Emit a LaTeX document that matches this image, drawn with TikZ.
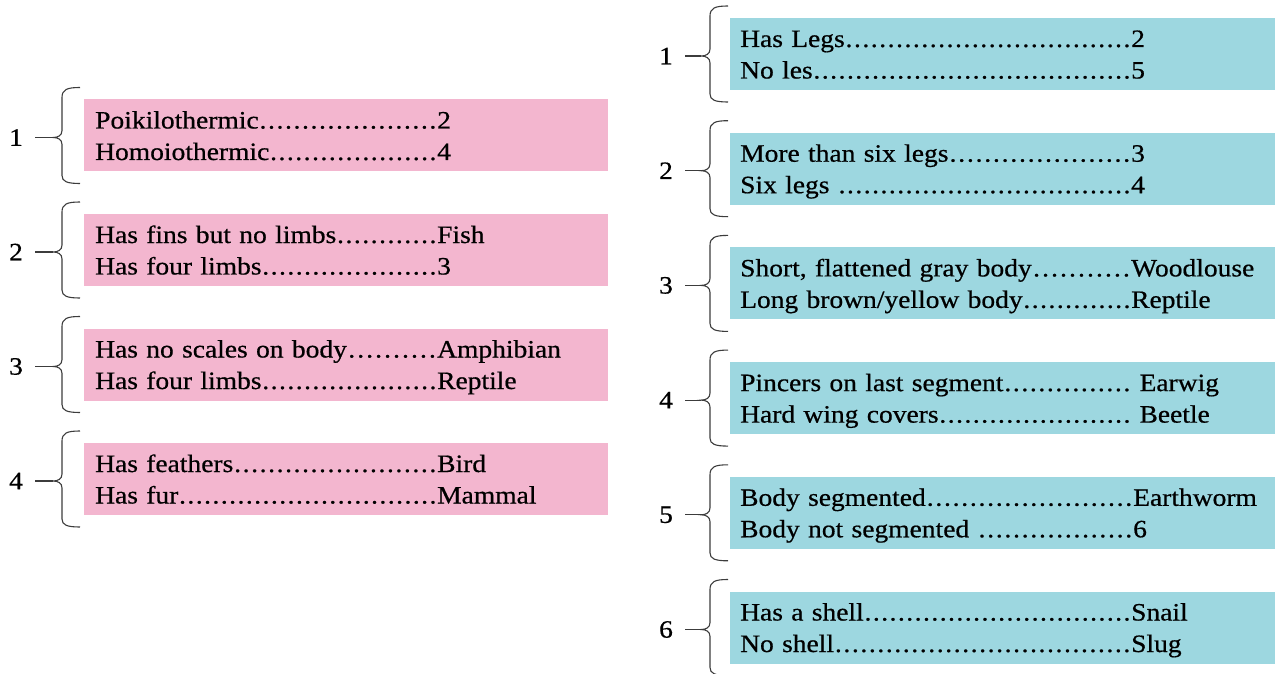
\documentclass[tikz,border=0pt]{standalone}
\usepackage{fontspec}
\setmainfont{Liberation Serif}[FakeStretch=1.1,FakeBold=0.6]
\definecolor{pinkbox}{RGB}{243,182,207}
\definecolor{cyanbox}{RGB}{157,215,224}
\definecolor{bracecol}{RGB}{60,60,60}
\newcommand\dotl{\xleaders\hbox to .3333em{\hss.\hss}\hfill}
\newcommand\keyline[3]{\makebox[#1][l]{\rule[-6pt]{0pt}{29.5pt}#2\dotl}#3}
% #1 tip name, #2 x of brace stem, #3 box centre y
\newcommand\keybrace[3]{%
  \coordinate (#1) at (#2-9,#3+2);
  \draw[bracepath] (#2+18,#3-48) .. controls (#2+5,#3-48) and (#2,#3-46) .. (#2,#3-38)
     -- (#2,#3-5) .. controls (#2,#3) and (#2-4,#3+2) .. (#1)
     .. controls (#2-4,#3+2) and (#2,#3+4) .. (#2,#3+9)
     -- (#2,#3+40) .. controls (#2,#3+46) and (#2+5,#3+48) .. (#2+18,#3+48);
}
\begin{document}
\begin{tikzpicture}[x=1pt,y=-1pt,
  keytext/.style={font=\fontsize{25}{31.5}\selectfont, text=black},
  pinkkey/.style={keytext, rectangle, fill=pinkbox, anchor=west,
     minimum height=72pt, inner xsep=11pt, inner ysep=0pt, text width=502pt, align=left},
  cyankey/.style={keytext, rectangle, fill=cyanbox, anchor=west,
     minimum height=72pt, inner xsep=10pt, inner ysep=0pt, text width=525pt, align=left},
  num/.style={keytext, inner sep=0pt},
  bracepath/.style={draw=bracecol, line width=1.1pt}]
\useasboundingbox (0,0) rectangle (1275,674);
\fill[white] (0,0) rectangle (1275,674);

% ---------- left key (pink) ----------
\node[pinkkey] (L1) at (84,135.5) {\keyline{342pt}{Poikilothermic}{2}\\\keyline{342pt}{Homoiothermic}{4}};
\node[pinkkey] (L2) at (84,250) {\keyline{342pt}{Has fins but no limbs}{Fish}\\\keyline{342pt}{Has four limbs}{3}};
\node[pinkkey] (L3) at (84,364.5) {\keyline{342pt}{Has no scales on body}{Amphibian}\\\keyline{342pt}{Has four limbs}{Reptile}};
\node[pinkkey] (L4) at (84,479) {\keyline{342pt}{Has feathers}{Bird}\\\keyline{342pt}{Has fur}{Mammal}};

\keybrace{L1t}{62}{135.5}
\keybrace{L2t}{62}{250}
\keybrace{L3t}{62}{364.5}
\keybrace{L4t}{62}{479}

\node[num] (L1n) at (16,137.5) {1};
\node[num] (L2n) at (16,252) {2};
\node[num] (L3n) at (16,366.5) {3};
\node[num] (L4n) at (16,481) {4};
\foreach \i in {1,...,4}{\draw[bracepath, shorten <=12pt] (L\i n.east) -- (L\i t);}

% ---------- right key (cyan) ----------
\node[cyankey] (R1) at (730,54) {\keyline{391pt}{Has Legs}{2}\\\keyline{391pt}{No les}{5}};
\node[cyankey] (R2) at (730,168.7) {\keyline{391pt}{More than six legs}{3}\\\keyline{391pt}{Six legs }{4}};
\node[cyankey] (R3) at (730,283.4) {\keyline{391pt}{Short, flattened gray body}{Woodlouse}\\\keyline{391pt}{Long brown/yellow body}{Reptile}};
\node[cyankey] (R4) at (730,398.1) {\keyline{391pt}{Pincers on last segment}{\ Earwig}\\\keyline{391pt}{Hard wing covers}{\ Beetle}};
\node[cyankey] (R5) at (730,512.8) {\keyline{393pt}{Body segmented}{Earthworm}\\\keyline{393pt}{Body not segmented }{6}};
\node[cyankey] (R6) at (730,627.5) {\keyline{391pt}{Has a shell}{Snail}\\\keyline{391pt}{No shell}{Slug}};

\keybrace{R1t}{710}{54}
\keybrace{R2t}{710}{168.7}
\keybrace{R3t}{710}{283.4}
\keybrace{R4t}{710}{398.1}
\keybrace{R5t}{710}{512.8}
\keybrace{R6t}{710}{627.5}

\node[num] (R1n) at (666,56) {1};
\node[num] (R2n) at (666,170.7) {2};
\node[num] (R3n) at (666,285.4) {3};
\node[num] (R4n) at (666,400.1) {4};
\node[num] (R5n) at (666,514.8) {5};
\node[num] (R6n) at (666,629.5) {6};
\foreach \i in {1,...,6}{\draw[bracepath, shorten <=12pt] (R\i n.east) -- (R\i t);}
\end{tikzpicture}
\end{document}
